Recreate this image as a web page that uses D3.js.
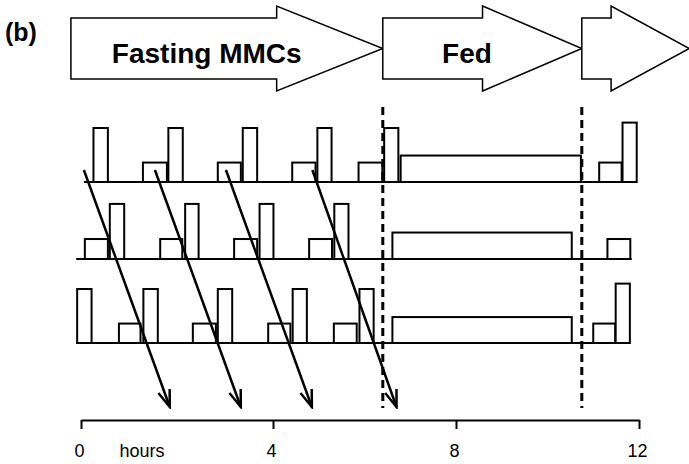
<!DOCTYPE html>
<html>
<head>
<meta charset="utf-8">
<script src="https://cdn.jsdelivr.net/npm/d3@7"></script>
<style>
body{margin:0;background:#fff;}
svg{display:block;font-family:"Liberation Sans",Arial,sans-serif;}
</style>
</head>
<body>
<svg width="689" height="464"></svg>
<script>
// time axis (hours)
const TICKS = [0, 4, 8, 12];
const AXIS_LABEL = "hours";

// phase arrows across the top: label, start, start of head, tip (hours)
const PHASES = ["Fasting MMCs", "Fed", ""];
const PHASE_START = [-0.21, 6.4, 10.75];
const PHASE_HEAD = [4.08, 8.58, 11.39];
const PHASE_END = [6.4, 10.75, 13.1];
const PHASE_LABEL_AT = [2.62, 8.24, 12];

// meal boundaries
const FED_LINES = [6.4, 10.75];

// recording sites, baseline extent (hours)
const ROWS = ["site1", "site2", "site3"];
const ROW_SPAN = [[0.06, 11.95], [-0.1, 11.84], [-0.1, 11.8]];

// bursts of contraction per site: [start, end, relative level]
const SITE1 = [[0.26,0.56,1],[1.29,1.79,0.36],[1.82,2.12,1],[2.85,3.33,0.36],[3.37,3.67,1],
  [4.42,4.93,0.36],[4.97,5.28,1],[5.87,6.39,0.36],[6.43,6.74,1],[6.79,10.73,0.49],
  [11.13,11.62,0.36],[11.64,11.95,1.1]];
const SITE2 = [[0.08,0.56,0.37],[0.6,0.9,1.02],[1.65,2.11,0.37],[2.17,2.45,1.02],
  [3.19,3.67,0.37],[3.72,4.01,1.02],[4.79,5.29,0.37],[5.34,5.65,1.02],[6.61,10.53,0.49],
  [11.31,11.81,0.37]];
const SITE3 = [[-0.08,0.22,1],[0.79,1.24,0.36],[1.3,1.6,1],[2.33,2.81,0.36],[2.85,3.15,1],
  [3.9,4.38,0.36],[4.43,4.74,1],[5.33,5.83,0.36],[5.89,6.2,1],[6.61,10.53,0.48],
  [11.0,11.48,0.36],[11.49,11.8,1.1]];

// propagating MMC fronts: start at site 1, arrive at the time axis
const WAVE_START = [0.06, 1.54, 3.02, 4.86];
const WAVE_END = [1.85, 3.33, 4.85, 6.7];

const svg = d3.select("svg");

const x = d3.scaleLinear().domain([0, 4, 12]).range([81, 273, 639]);
const rowY = d3.scaleOrdinal().domain(ROWS).range([182, 259, 343]);
const h = d3.scaleLinear().domain([0, 1]).range([0, 54]);
const axisY = 420;

svg.append("text")
  .attr("x", 5).attr("y", 41)
  .attr("font-size", 25).attr("font-weight", "bold")
  .text("(b)");

// phase arrows
const phases = PHASES.map((p, i) => ({label: p, s: PHASE_START[i], m: PHASE_HEAD[i], e: PHASE_END[i], at: PHASE_LABEL_AT[i]}));
svg.selectAll(".phase")
  .data(phases)
  .enter()
  .append("path")
  .classed("phase", true)
  .attr("d", d => {
    const x0 = x(d.s), xm = x(d.m), x1 = x(d.e);
    return `M${x0},18L${xm},18L${xm},6L${x1},48.5L${xm},91L${xm},79L${x0},79Z`;
  })
  .attr("fill", "#fff")
  .attr("stroke", "#000")
  .attr("stroke-width", 1.5);

svg.selectAll(".phase-label")
  .data(phases.filter(d => d.label))
  .enter()
  .append("text")
  .attr("x", d => x(d.at))
  .attr("y", 63)
  .attr("text-anchor", "middle")
  .attr("font-size", 28)
  .attr("font-weight", "bold")
  .text(d => d.label);

// rows
const sites = [SITE1, SITE2, SITE3];
ROWS.forEach((r, i) => {
  const base = rowY(r);
  const g = svg.append("g");
  g.selectAll(".bar")
    .data(sites[i])
    .enter()
    .append("rect")
    .classed("bar", true)
    .attr("x", d => x(d[0]))
    .attr("width", d => x(d[1]) - x(d[0]))
    .attr("y", d => base - h(d[2]))
    .attr("height", d => h(d[2]))
    .attr("fill", "#fff")
    .attr("stroke", "#000")
    .attr("stroke-width", 2);
  g.append("line")
    .attr("x1", x(ROW_SPAN[i][0])).attr("x2", x(ROW_SPAN[i][1]))
    .attr("y1", base).attr("y2", base)
    .attr("stroke", "#000")
    .attr("stroke-width", 2);
});

// meal boundaries
svg.selectAll(".fed")
  .data(FED_LINES)
  .enter()
  .append("line")
  .attr("x1", d => x(d)).attr("x2", d => x(d))
  .attr("y1", 107).attr("y2", 408)
  .attr("stroke", "#000")
  .attr("stroke-width", 3)
  .attr("stroke-dasharray", "8,5");

// arrowhead
svg.append("defs").append("marker")
  .attr("id", "head")
  .attr("markerUnits", "userSpaceOnUse")
  .attr("viewBox", "-20 -10 22 20")
  .attr("refX", 0).attr("refY", 0)
  .attr("markerWidth", 22).attr("markerHeight", 20)
  .attr("orient", "auto")
  .append("path")
  .attr("d", "M-17,-6L0,0L-17,6")
  .attr("fill", "none")
  .attr("stroke", "#000")
  .attr("stroke-width", 2.5);

svg.selectAll(".wave")
  .data(WAVE_START.map((s, i) => [s, WAVE_END[i]]))
  .enter()
  .append("line")
  .classed("wave", true)
  .attr("x1", d => x(d[0])).attr("y1", 170)
  .attr("x2", d => x(d[1])).attr("y2", 407)
  .attr("stroke", "#000")
  .attr("stroke-width", 2.5)
  .attr("marker-end", "url(#head)");

// time axis
const axis = svg.append("g")
  .attr("transform", `translate(0,${axisY})`)
  .call(d3.axisBottom(x).tickValues(TICKS).tickSize(9).tickSizeOuter(0).tickPadding(15).tickFormat(d3.format("d")));
axis.select(".domain").attr("stroke-width", 2);
axis.selectAll(".tick line").attr("stroke-width", 2);
axis.selectAll(".tick text")
  .attr("font-size", 18)
  .attr("font-family", "Liberation Sans, Arial, sans-serif")
  .attr("fill", "#000")
  .attr("dx", -2);

svg.append("text")
  .attr("x", x(0.8))
  .attr("y", axisY + 37)
  .attr("font-size", 18)
  .text(AXIS_LABEL);
</script>
</body>
</html>
